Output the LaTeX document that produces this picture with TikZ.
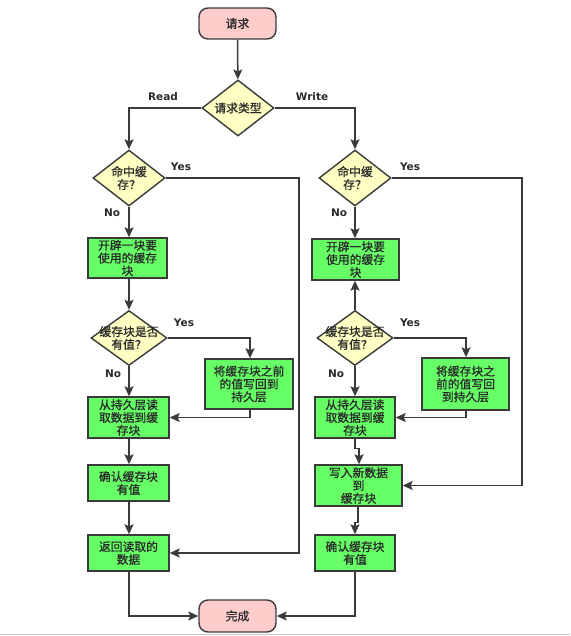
\documentclass[tikz,border=0pt]{standalone}
\usepackage{fontspec}
\setmainfont{Noto Sans CJK SC}[BoldFont={Noto Sans CJK SC}, BoldFeatures={FakeBold=0.9}]
\newfontfamily\labelfont{DejaVu Sans}
\usetikzlibrary{shapes.geometric,arrows.meta}

\definecolor{linegray}{HTML}{3A3A3A}
\definecolor{textgray}{HTML}{2A2A2A}
\definecolor{termpink}{HTML}{FFCCCC}
\definecolor{queryyellow}{HTML}{FFFFC4}
\definecolor{jobgreen}{HTML}{66FF66}

\begin{document}
\begin{tikzpicture}[x=1pt, y=-1pt,
every node/.style={align=center, text=textgray, inner sep=0pt,
        font=\bfseries\fontsize{11.8}{12.8}\selectfont},
term/.style={rectangle, rounded corners=9pt, draw=linegray, line width=1.4pt,
        fill=termpink, minimum width=77pt, minimum height=31pt},
query/.style={diamond, draw=linegray, line width=1.4pt, fill=queryyellow,
        minimum width=72pt, minimum height=56pt},
job/.style={rectangle, draw=linegray, line width=1.4pt, fill=jobgreen,
        minimum width=81pt, minimum height=40pt},
lbl/.style={font=\labelfont\bfseries\fontsize{10.5}{12}\selectfont},
flow/.style={draw=linegray, line width=1.5pt,
        -{Stealth[length=10pt, width=9pt, inset=2pt]}}
]
  \useasboundingbox (0,0) rectangle (570,636);
  \draw[black!22, line width=1.5pt] (0,634.5) -- (570,634.5);

  % start and request type
  \node[term] (start) at (237.5,23.5) {请求};
  \node[query, label={center:请求类型}] (type) at (238,108) {};

  % read side
  \node[query, label={center:命中缓\\存？}] (hitR) at (129,178) {};
  \node[job, minimum width=79pt] (allocR) at (127.5,258) {开辟一块要\\使用的缓存\\块};
  \node[query, minimum width=76pt, minimum height=55pt,
        label={center:缓存块是否\\有值？}] (hasR) at (129,338) {};
  \node[job, minimum width=88pt, minimum height=50pt] (flushR) at (249,384) {将缓存块之前\\的值写回到\\持久层};
  \node[job, minimum height=41pt] (loadR) at (128.5,417.5) {从持久层读\\取数据到缓\\存块};
  \node[job, minimum height=36pt] (confR) at (128.5,483) {确认缓存块\\有值};
  \node[job, minimum height=36pt] (retR) at (128.5,553) {返回读取的\\数据};

  % write side
  \node[query, label={center:命中缓\\存？}] (hitW) at (355,178) {};
  \node[job, minimum width=87pt, minimum height=41pt] (allocW) at (355.5,259.5) {开辟一块要\\使用的缓存\\块};
  \node[query, minimum width=76pt, minimum height=55pt,
        label={center:缓存块是否\\有值？}] (hasW) at (355,338) {};
  \node[job, minimum width=87pt, minimum height=52pt] (flushW) at (465.5,384) {将缓存块之\\前的值写回\\到持久层};
  \node[job, minimum width=80pt, minimum height=41pt] (loadW) at (355,417.5) {从持久层读\\取数据到缓\\存块};
  \node[job, minimum width=87pt, minimum height=41pt] (writeW) at (358.5,485.5) {写入新数据\\到\\缓存块};
  \node[job, minimum width=80pt, minimum height=36pt] (confW) at (355,553) {确认缓存块\\有值};

  \node[term, minimum height=32pt] (done) at (237.5,616) {完成};

  % branch labels
  \node[lbl] (lRead) at (163,97) {Read};
  \node[lbl] (lWrite) at (312,97) {Write};
  \node[lbl] (lYesR1) at (181,167) {Yes};
  \node[lbl] (lNoR1) at (112,213) {No};
  \node[lbl] (lYesR2) at (184,323) {Yes};
  \node[lbl] (lNoR2) at (113,374) {No};
  \node[lbl] (lYesW1) at (410,167) {Yes};
  \node[lbl] (lNoW1) at (339,213) {No};
  \node[lbl] (lYesW2) at (410,323) {Yes};
  \node[lbl] (lNoW2) at (336,374) {No};

  % connectors
  \draw[flow] (start) -- (type);
  \draw[flow] (type.west) -| (hitR.north);
  \draw[flow] (type.east) -| (hitW.north);

  \draw[flow] (hitR.east) -- (299,178) |- (retR.east);
  \draw[flow] (hitR.south) -- (allocR.north -| hitR.south);
  \draw[flow] (allocR.south -| hasR.north) -- (hasR.north);
  \draw[flow] (hasR.east) -| (flushR.north -| 250,0);
  \draw[flow] (hasR.south) -- (loadR.north -| hasR.south);
  \draw[flow] (flushR.south -| 250,0) |- (loadR.east);
  \draw[flow] (loadR.south -| hasR.south) -- (confR.north -| hasR.south);
  \draw[flow] (confR.south -| hasR.south) -- (retR.north -| hasR.south);
  \draw[flow] (retR.south -| hasR.south) |- (done.west);

  \draw[flow] (hitW.east) -- (522,178) |- (writeW.east);
  \draw[flow] (hitW.south) -- (allocW.north -| hitW.south);
  \draw[flow] (hasW.north) -- (allocW.south -| hasW.north);
  \draw[flow] (hasW.east) -| (flushW.north -| 466,0);
  \draw[flow] (hasW.south) -- (loadW.north);
  \draw[flow] (flushW.south -| 466,0) |- (loadW.east);
  \draw[flow] (loadW.south) -- ++(0,10) -| (writeW.north -| 359,0);
  \draw[flow] (writeW.south -| 358,0) -- ++(0,16) -| (confW.north);
  \draw[flow] (confW.south) |- (done.east);
\end{tikzpicture}
\end{document}
